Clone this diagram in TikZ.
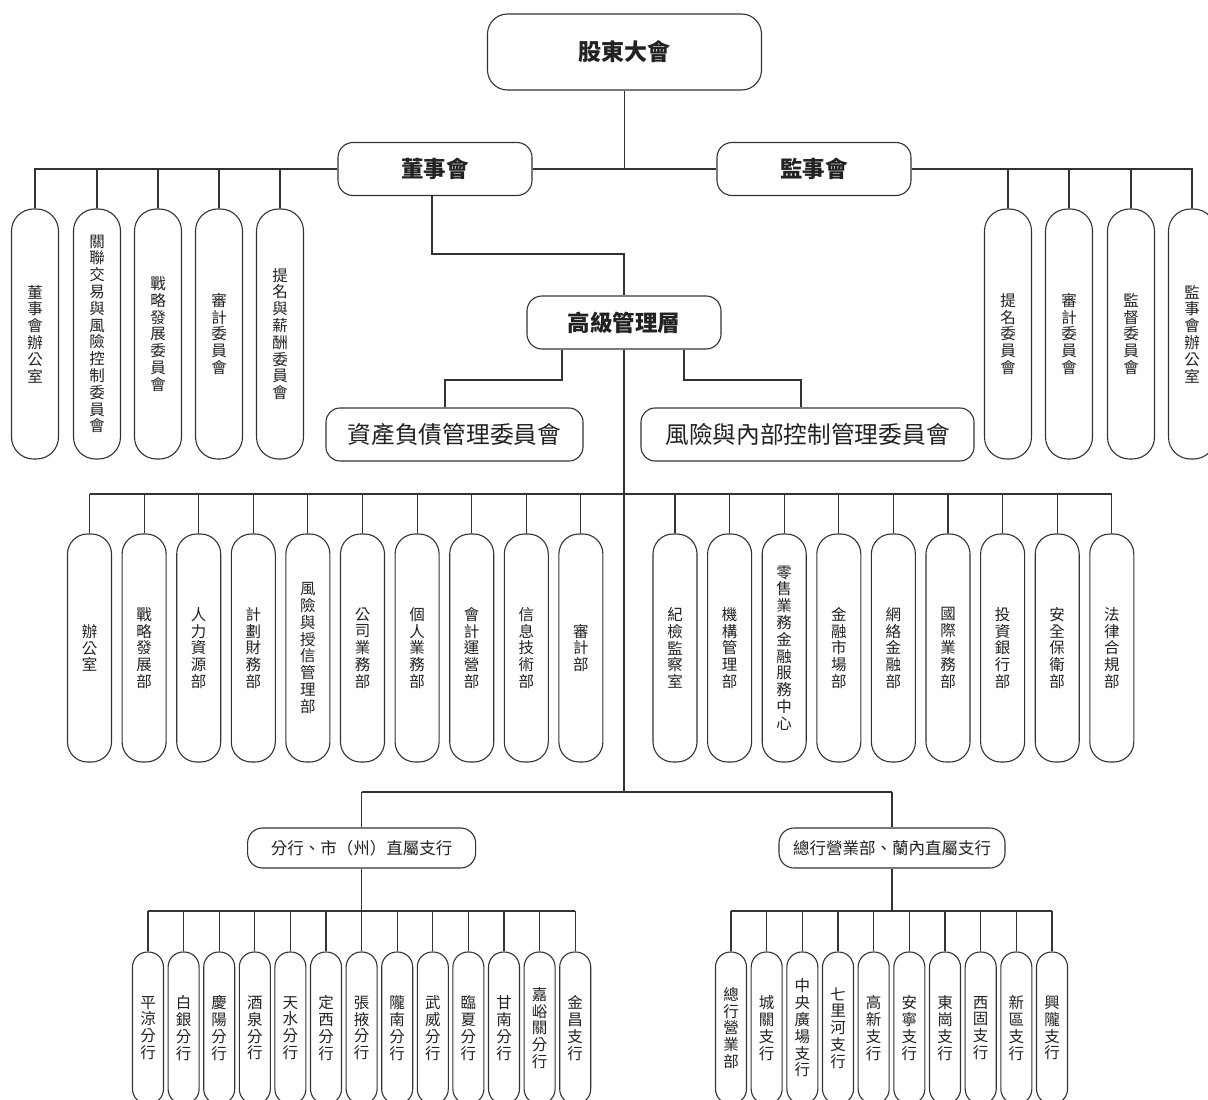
\documentclass[tikz,border=0pt]{standalone}
\usepackage{fontspec}
\setmainfont{Noto Sans CJK TC}
\def\vtstop{}
\def\vtloop#1{\ifx#1\vtstop\else\hbox to 1em{\hss#1\hss}\expandafter\vtloop\fi}
\newcommand\vt[1]{\vbox{\vtloop#1\vtstop}}
\newcommand\vtx[1]{\expandafter\vt\expandafter{#1}}
\definecolor{lc}{HTML}{333333}
\definecolor{tc}{HTML}{222222}
\tikzset{
  ln/.style={draw=lc, line width=1.1pt},
  boxbase/.style={draw=lc, line width=1.1pt, fill=white, text=tc, inner sep=0pt, rectangle},
  topbox/.style={boxbase, rounded corners=20pt, minimum width=274pt, minimum height=76pt, font=\fontsize{23}{26}\selectfont\bfseries},
  midbox/.style={boxbase, rounded corners=15pt, minimum width=194pt, minimum height=53pt, font=\fontsize{22.5}{26}\selectfont\bfseries},
  combox/.style={boxbase, rounded corners=14pt, minimum height=53pt, font=\fontsize{23.7}{26}\selectfont},
  brbox/.style={boxbase, rounded corners=15pt, minimum height=40pt, font=\fontsize{16.5}{20}\selectfont},
  pillbase/.style={boxbase, font=\fontsize{15.5}{16.8}\selectfont},
  pillA/.style={pillbase, minimum width=47pt, minimum height=250pt, rounded corners=22pt},
  pillB/.style={pillbase, minimum width=44pt, minimum height=228pt, rounded corners=20pt},
  pillC/.style={pillbase, minimum width=31pt, minimum height=152pt, rounded corners=15pt},
}
\begin{document}
\begin{tikzpicture}[x=1pt,y=-1pt]
\useasboundingbox (0,0) rectangle (1208,1100);
\clip (0,0) rectangle (1208,1100);

% main boxes
\node[topbox] (gd) at (624.5,52) {股東大會};
\node[midbox] (ds) at (435,169) {董事會};
\node[midbox] (js) at (814,169) {監事會};
\node[midbox] (gg) at (624,322.5) {高級管理層};
\node[combox, minimum width=257pt] (zc) at (454.5,434.5) {資產負債管理委員會};
\node[combox, minimum width=333pt] (fx) at (807.5,434.5) {風險與內部控制管理委員會};
\node[brbox, minimum width=228pt] (bA) at (361.6,848) {分行、市（州）直屬支行};
\node[brbox, minimum width=226pt] (bB) at (892,848) {總行營業部、蘭內直屬支行};

% board committees
\foreach \nm/\x [count=\i] in {董事會辦公室/35, 關聯交易與風險控制委員會/97, 戰略發展委員會/158, 審計委員會/219, 提名與薪酬委員會/280}
  \node[pillA] (cl\i) at (\x,334) {\vtx\nm};
% supervisory committees
\foreach \nm/\x [count=\i] in {提名委員會/1008, 審計委員會/1069, 監督委員會/1131, 監事會辦公室/1192}
  \node[pillA] (cr\i) at (\x,334) {\vtx\nm};

% departments
\foreach \nm [count=\i] in {辦公室, 戰略發展部, 人力資源部, 計劃財務部, 風險與授信管理部, 公司業務部, 個人業務部, 會計運營部, 信息技術部, 審計部}
  \node[pillB] (d\i) at ({89.5+54.6*(\i-1)},648) {\vtx\nm};
\foreach \nm [count=\i from 11] in {紀檢監察室, 機構管理部, 零售業務金融服務中心, 金融市場部, 網絡金融部, 國際業務部, 投資銀行部, 安全保衛部, 法律合規部}
  \node[pillB] (d\i) at ({675+54.6*(\i-11)},648) {\vtx\nm};

% branches
\foreach \nm [count=\i] in {平涼分行, 白銀分行, 慶陽分行, 酒泉分行, 天水分行, 定西分行, 張掖分行, 隴南分行, 武威分行, 臨夏分行, 甘南分行, 嘉峪關分行, 金昌支行}
  \node[pillC] (f\i) at ({148+35.6*(\i-1)},1028) {\vtx\nm};
\foreach \nm [count=\i] in {總行營業部, 城關支行, 中央廣場支行, 七里河支行, 高新支行, 安寧支行, 東崗支行, 西固支行, 新區支行, 興隴支行}
  \node[pillC] (g\i) at ({731+35.67*(\i-1)},1028) {\vtx\nm};

% connectors: top level
\draw[ln] (gd.south) -- (gd.south |- ds.east);
\draw[ln] (ds.east) -- (js.west);
\draw[ln] (ds.west) -- (cl1.north |- ds.west) -- (cl1.north);
\foreach \i in {2,...,5} \draw[ln] (cl\i.north) -- (cl\i.north |- ds.west);
\draw[ln] (js.east) -- (cr4.north |- js.east) -- (cr4.north);
\foreach \i in {1,...,3} \draw[ln] (cr\i.north) -- (cr\i.north |- js.east);

\coordinate (k1) at (624,254);
\draw[ln] ([xshift=-3pt]ds.south) |- (k1) -- (gg.north);

\coordinate (k2) at (445,380);
\coordinate (k3) at (801,380);
\draw[ln] ([xshift=-62pt]gg.south) |- (k2) -- (k2 |- zc.north);
\draw[ln] ([xshift=60pt]gg.south) |- (k3) -- (k3 |- fx.north);

% main spine
\coordinate (hb) at (624,792);
\coordinate (hd) at (624,494);
\draw[ln] (gg.south) -- (hb);
\draw[ln] (d1.north |- hd) -- (d19.north |- hd);
\foreach \i in {1,...,19} \draw[ln] (d\i.north) -- (d\i.north |- hd);

% branch groups
\draw[ln] (bA.north |- hb) -- (bB.north |- hb);
\draw[ln] (bA.north) -- (bA.north |- hb);
\draw[ln] (bB.north) -- (bB.north |- hb);
\coordinate (hf) at (0,911);
\draw[ln] (bA.south) -- (bA.south |- hf);
\draw[ln] (f1.north |- hf) -- (f13.north |- hf);
\foreach \i in {1,...,13} \draw[ln] (f\i.north) -- (f\i.north |- hf);
\draw[ln] (bB.south) -- (bB.south |- hf);
\draw[ln] (g1.north |- hf) -- (g10.north |- hf);
\foreach \i in {1,...,10} \draw[ln] (g\i.north) -- (g\i.north |- hf);
\end{tikzpicture}
\end{document}
